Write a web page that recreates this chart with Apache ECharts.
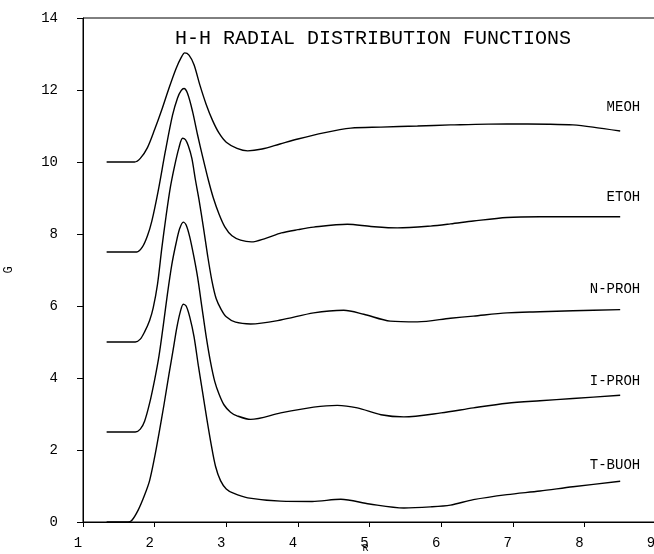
<!DOCTYPE html>
<html>
<head>
<meta charset="utf-8">
<script src="https://cdn.jsdelivr.net/npm/echarts@6/dist/echarts.min.js"></script>
<style>html,body{margin:0;padding:0;background:#fff}#c{width:654px;height:554px}</style>
</head>
<body>
<div id="c"></div>
<script>
const titleText = 'H-H RADIAL DISTRIBUTION FUNCTIONS';
const xTicks = [1,2,3,4,5,6,7,8,9];
const yTicks = [0,2,4,6,8,10,12,14];
const seriesNames = ['MEOH','ETOH','N-PROH','I-PROH','T-BUOH'];

const meoh = [[1.33,10],[1.72,10],[1.8,10.1],[1.9,10.4],[2.0,10.9],[2.1,11.45],[2.2,12.05],[2.3,12.6],[2.37,12.9],[2.42,13.03],[2.48,12.97],[2.55,12.7],[2.63,12.15],[2.72,11.6],[2.81,11.15],[2.9,10.8],[3.0,10.55],[3.15,10.38],[3.3,10.31],[3.5,10.36],[3.75,10.5],[4.0,10.64],[4.36,10.81],[4.74,10.94],[5.16,10.97],[5.67,11.0],[6.13,11.03],[6.92,11.06],[7.5,11.05],[7.84,11.03],[8.12,10.97],[8.5,10.86]];
const etoh = [[1.33,7.5],[1.75,7.5],[1.83,7.64],[1.9,7.95],[1.96,8.35],[2.05,9.2],[2.15,10.3],[2.25,11.3],[2.32,11.78],[2.37,11.98],[2.41,12.04],[2.46,11.9],[2.53,11.4],[2.6,10.75],[2.67,10.15],[2.75,9.5],[2.82,9.0],[2.9,8.55],[2.98,8.2],[3.08,7.95],[3.2,7.83],[3.35,7.78],[3.55,7.88],[3.77,8.03],[4.0,8.12],[4.22,8.19],[4.69,8.27],[5.02,8.21],[5.39,8.17],[5.85,8.22],[6.13,8.28],[6.45,8.36],[6.92,8.46],[7.38,8.48],[8.5,8.48]];
const nproh = [[1.33,5],[1.73,5],[1.8,5.08],[1.86,5.28],[1.93,5.6],[1.98,5.95],[2.04,6.6],[2.1,7.6],[2.16,8.5],[2.22,9.3],[2.28,9.9],[2.34,10.4],[2.39,10.66],[2.43,10.62],[2.47,10.45],[2.52,10.1],[2.57,9.5],[2.62,8.95],[2.68,8.2],[2.74,7.4],[2.8,6.7],[2.86,6.2],[2.93,5.9],[3.0,5.7],[3.13,5.55],[3.34,5.5],[3.76,5.61],[4.22,5.81],[4.64,5.88],[4.92,5.77],[5.29,5.58],[5.67,5.56],[6.13,5.66],[6.45,5.72],[6.92,5.81],[7.38,5.84],[7.84,5.87],[8.5,5.9]];
const iproh = [[1.33,2.5],[1.73,2.5],[1.8,2.58],[1.86,2.8],[1.93,3.3],[2.0,3.95],[2.06,4.6],[2.12,5.45],[2.18,6.35],[2.24,7.15],[2.3,7.75],[2.35,8.15],[2.4,8.33],[2.44,8.25],[2.49,7.92],[2.55,7.35],[2.6,6.8],[2.66,5.97],[2.72,5.15],[2.78,4.45],[2.84,3.9],[2.9,3.55],[2.97,3.25],[3.06,3.05],[3.15,2.95],[3.34,2.85],[3.76,3.03],[4.22,3.19],[4.55,3.24],[4.83,3.17],[5.16,2.98],[5.48,2.92],[6.0,3.03],[6.45,3.17],[6.92,3.3],[7.38,3.37],[7.84,3.43],[8.5,3.52]];
const tbuoh = [[1.33,0],[1.63,0],[1.68,0.04],[1.77,0.33],[1.86,0.75],[1.93,1.15],[2.0,1.8],[2.06,2.45],[2.13,3.25],[2.2,4.1],[2.26,4.8],[2.31,5.4],[2.36,5.85],[2.4,6.05],[2.44,6.0],[2.49,5.7],[2.55,5.15],[2.61,4.35],[2.67,3.6],[2.73,2.85],[2.79,2.15],[2.85,1.55],[2.92,1.15],[3.0,0.92],[3.1,0.8],[3.3,0.67],[3.76,0.58],[4.2,0.57],[4.6,0.63],[5.0,0.5],[5.48,0.39],[5.85,0.42],[6.13,0.47],[6.45,0.62],[6.92,0.76],[7.38,0.86],[7.84,0.98],[8.5,1.13]];

const seriesData = [meoh, etoh, nproh, iproh, tbuoh];
const labelOffsets = [[12,-17],[12,-12],[12,-13],[12,-7],[12,-9]];

const FONT = 'Liberation Mono';
const chart = echarts.init(document.getElementById('c'), null, {renderer:'canvas'});
chart.setOption({
  animation: false,
  backgroundColor: '#fff',
  title: {
    text: titleText, left: 170, top: 24,
    textStyle: {fontFamily: FONT, fontSize: 20, fontWeight: 'normal', color: '#000'}
  },
  grid: {left: 83, right: -2, top: 18, bottom: 32, outerBoundsMode: 'none', containLabel: false,
    show: true, borderColor: '#000', borderWidth: 1, backgroundColor: 'transparent'},
  xAxis: {
    type: 'value', min: 1, max: 9, interval: 1,
    name: 'R', nameLocation: 'middle', nameGap: 21, nameMoveOverlap: false,
    nameTextStyle: {fontFamily: FONT, fontSize: 10, color: '#000', padding: [0, 8, 0, 0]},
    axisLine: {lineStyle: {color: '#000', width: 1}},
    axisTick: {inside: false, length: 5, lineStyle: {color: '#000'}},
    axisLabel: {fontFamily: FONT, fontSize: 14, color: '#000', margin: 14, padding: [0, 10, 0, 0],
      showMinLabel: true, showMaxLabel: true, hideOverlap: false,
      formatter: v => xTicks.includes(v) ? String(v) : ''},
    splitLine: {show: false}
  },
  yAxis: {
    type: 'value', min: 0, max: 14, interval: 2,
    name: 'G', nameLocation: 'middle', nameGap: 68, nameRotate: 90, nameMoveOverlap: false,
    nameTextStyle: {fontFamily: FONT, fontSize: 12, color: '#000'},
    axisLine: {show: true, lineStyle: {color: '#000', width: 1}},
    axisTick: {show: true, inside: false, length: 6, lineStyle: {color: '#000'}},
    axisLabel: {fontFamily: FONT, fontSize: 14, color: '#000', margin: 25,
      formatter: v => yTicks.includes(v) ? String(v) : ''},
    splitLine: {show: false}
  },
  series: seriesNames.map((name, i) => ({
    name, type: 'line', data: seriesData[i], showSymbol: false, symbol: 'none',
    smooth: 0.3,
    lineStyle: {color: '#000', width: 1.4},
    endLabel: {show: true, formatter: name, align: 'right', verticalAlign: 'bottom',
      offset: labelOffsets[i], fontFamily: FONT, fontSize: 14, color: '#000'}
  }))
});
</script>
</body>
</html>
